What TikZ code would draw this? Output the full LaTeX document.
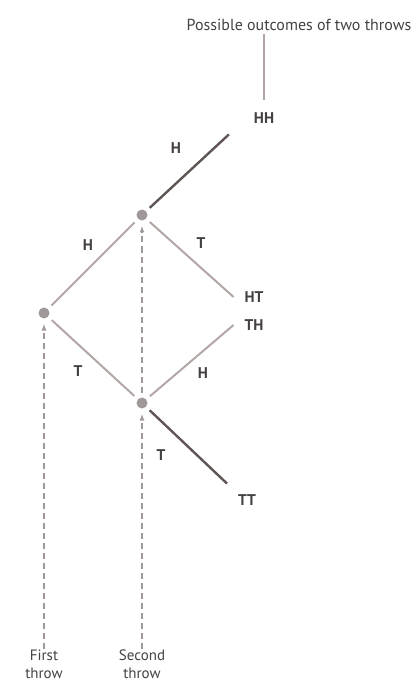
\documentclass[tikz,border=0pt]{standalone}
\usepackage{fontspec}
\setmainfont{PT Sans}
\usepackage{tikz}
\usetikzlibrary{arrows.meta,positioning}

\definecolor{lineg}{RGB}{178,166,166}
\definecolor{darkg}{RGB}{95,85,85}
\definecolor{dotg}{RGB}{160,152,152}
\definecolor{txtg}{RGB}{70,65,65}

\begin{document}
\begin{tikzpicture}[
  x=1pt, y=-1pt,
  font=\fontsize{16}{17}\selectfont, text=txtg,
  dot/.style={circle, fill=dotg, minimum size=11pt, inner sep=0pt, outer sep=5pt},
  res/.style={font=\fontsize{15.5}{17}\selectfont\bfseries, inner sep=1pt, outer sep=10pt},
  lab/.style={font=\fontsize{15.5}{17}\selectfont\bfseries},
  br/.style={lineg, line width=2pt},
  brd/.style={darkg, line width=2.4pt},
  thr/.style={dotg, line width=1.8pt, dash pattern=on 6pt off 4pt, -{Latex[length=7pt,width=5pt]}},
  throwtxt/.style={align=center, font=\fontsize{15}{18}\selectfont, inner sep=0pt}
]
\useasboundingbox (0,0) rectangle (416,684);

\node (ttl) at (299,25) {Possible outcomes of two throws};

% throws
\node[dot] (a) at (44,313) {};
\node[dot] (b) at (142,215) {};
\node[dot] (c) at (142,403) {};

% outcomes
\node[res] (hh) at (264,118) {HH};
\node[res] (ht) at (254,297) {HT};
\node[res] (th) at (254,325) {TH};
\node[res] (tt) at (247,500) {TT};

\draw[lineg, line width=1.2pt] (hh.north |- ttl.south) -- ([yshift=2pt]hh.north);

\draw[br] (a) -- (b);
\draw[br] (a) -- (c);
\draw[br] (b) -- (ht.west);
\draw[br] (c) -- (th.west);
\draw[brd] (b) -- ([xshift=-14pt]hh.south west);
\draw[brd] (c) -- (tt.north west);

\node[lab] at (176,148) {H};
\node[lab] at (88,245) {H};
\node[lab] at (201,243) {T};
\node[lab] at (78,371) {T};
\node[lab] at (203,373) {H};
\node[lab] at (161,455) {T};

% throw arrows
\node[throwtxt] (f) at (44,664) {First\\throw};
\node[throwtxt] (s) at (142,664) {Second\\throw};
\draw[thr] (f.north) -- (a);
\draw[thr] (s.north) -- (c);
\draw[thr] (c) -- (b);
\end{tikzpicture}
\end{document}
